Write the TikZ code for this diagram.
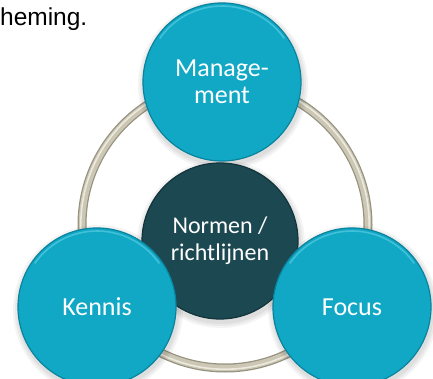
\documentclass[tikz,border=0pt]{standalone}
\usepackage{fontspec}
\setmainfont{Carlito}
\newfontfamily\arialf{Liberation Sans}
\definecolor{tealc}{RGB}{17,168,197}
\definecolor{tealdark}{RGB}{9,132,158}
\definecolor{teallight}{RGB}{70,196,220}
\definecolor{darkc}{RGB}{28,72,81}
\definecolor{darkedge}{RGB}{18,52,59}
\definecolor{ringc}{RGB}{203,199,180}
\definecolor{ringdark}{RGB}{150,146,128}
\definecolor{ringlight}{RGB}{236,234,222}
\begin{document}
\begin{tikzpicture}[x=1pt,y=-1pt,
  bub/.style={circle, minimum size=158pt, inner sep=0pt, fill=tealc, text=white,
    draw=tealdark, line width=1.2pt, align=center, font=\fontsize{26}{27}\selectfont},
  hub/.style={circle, minimum size=156pt, inner sep=0pt, fill=darkc, text=white,
    draw=darkedge, line width=1.2pt, align=center, font=\fontsize{24}{26.7}\selectfont},
  softsh/.style={fill=black, opacity=0.045},
  rimlight/.style={draw=teallight, line width=1.6pt, opacity=0.9}
]
\useasboundingbox (0,0) rectangle (433,379);
\fill[white] (0,0) rectangle (433,379);

% caption fragment
\node[anchor=base east, inner sep=0pt, font=\arialf\fontsize{24.5}{28}\selectfont] (cap) at (87.5,26) {heming.};

% ring
\coordinate (rc) at (225,225);
\draw[ringdark, line width=9pt] (rc) circle (143);
\draw[ringc, line width=6.5pt] (rc) circle (143);
\draw[ringlight, line width=1.6pt] (rc) circle (144.2);

% soft shadows
\foreach \cx/\cy/\r in {220/241/78, 222/82/79, 97/307/79, 352/307/79}{
  \foreach \d in {6,4,2}{
    \fill[softsh] (\cx+1,\cy+3) circle (\r+\d);
  }
}

% hub
\node[hub] (normen) at (220,241) {Normen /\\richtlijnen};

% outer bubbles
\node[bub] (mgmt) at (222,82) {Manage-\\ment};
\node[bub] (kennis) at (97,307) {Kennis};
\node[bub] (focus) at (352,307) {Focus};

% bevel highlights on the upper rims
\foreach \n in {mgmt,kennis,focus}{
  \draw[rimlight] (\n.center) ++(215:76) arc[start angle=215, end angle=325, radius=76];
}
\end{tikzpicture}
\end{document}
